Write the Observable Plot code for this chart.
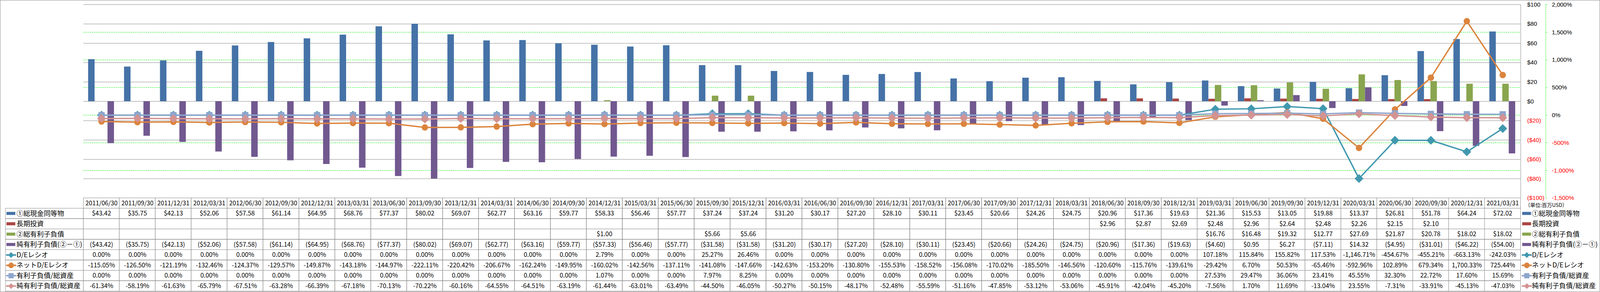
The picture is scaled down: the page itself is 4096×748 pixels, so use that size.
<!DOCTYPE html>
<html><head><meta charset="utf-8">
<script src="https://cdn.jsdelivr.net/npm/d3@7"></script>
<script src="https://cdn.jsdelivr.net/npm/@observablehq/plot@0.6"></script>
<style>
html,body{margin:0;padding:0;background:#fff;}
#wrap{position:relative;width:4096px;height:748px;overflow:hidden;background:#fff;}
#wrap > svg{position:absolute;left:0;top:0;}
#border{position:absolute;left:0;top:0;width:4096px;height:748px;box-sizing:border-box;border:1px solid #8c8c8c;pointer-events:none;}
</style></head>
<body><div id="wrap"></div>
<script>
// ---------------- data ----------------
const dates = ["2011/06/30","2011/09/30","2011/12/31","2012/03/31","2012/06/30","2012/09/30","2012/12/31","2013/03/31","2013/06/30","2013/09/30",
"2013/12/31","2014/03/31","2014/06/30","2014/09/30","2014/12/31","2015/03/31","2015/06/30","2015/09/30","2015/12/31","2016/03/31",
"2016/06/30","2016/09/30","2016/12/31","2017/03/31","2017/06/30","2017/09/30","2017/12/31","2018/03/31","2018/06/30","2018/09/30",
"2018/12/31","2019/03/31","2019/06/30","2019/09/30","2019/12/31","2020/03/31","2020/06/30","2020/09/30","2020/12/31","2021/03/31"];
const cash = [43.42,35.75,42.13,52.06,57.58,61.14,64.95,68.76,77.37,80.02,
69.07,62.77,63.16,59.77,58.33,56.46,57.77,37.24,37.24,31.20,
30.17,27.20,28.10,30.11,23.45,20.66,24.26,24.75,20.96,17.36,
19.63,21.36,15.53,13.05,19.88,13.37,26.81,51.78,64.24,72.02];
const ltInvest = [null,null,null,null,null,null,null,null,null,null,
null,null,null,null,null,null,null,null,null,null,
null,null,null,null,null,null,null,null,2.96,2.87,
2.69,2.48,2.96,2.64,2.48,2.26,2.15,2.10,null,null];
const totalDebt = [null,null,null,null,null,null,null,null,null,null,
null,null,null,null,1.00,null,null,5.66,5.66,null,
null,null,null,null,null,null,null,null,null,null,
null,16.76,16.48,19.32,12.77,27.69,21.87,20.78,18.02,18.02];
const netDebt = [-43.42,-35.75,-42.13,-52.06,-57.58,-61.14,-64.95,-68.76,-77.37,-80.02,
-69.07,-62.77,-63.16,-59.77,-57.33,-56.46,-57.77,-31.58,-31.58,-31.20,
-30.17,-27.20,-28.10,-30.11,-23.45,-20.66,-24.26,-24.75,-20.96,-17.36,
-19.63,-4.60,0.95,6.27,-7.11,14.32,-4.95,-31.01,-46.22,-54.00];
const deRatio = [0,0,0,0,0,0,0,0,0,0,
0,0,0,0,2.79,0,0,25.27,26.46,0,
0,0,0,0,0,0,0,0,0,0,
0,107.18,115.84,155.82,117.53,-1146.71,-454.67,-455.21,-663.13,-242.03];
const netDeRatio = [-115.05,-126.50,-121.19,-132.46,-124.37,-129.57,-149.87,-143.18,-144.97,-222.11,
-220.42,-206.67,-162.24,-149.95,-160.02,-142.56,-137.11,-141.08,-147.66,-142.63,
-153.20,-130.80,-155.53,-158.52,-156.08,-170.02,-185.50,-146.56,-120.60,-115.76,
-139.61,-29.42,6.70,50.53,-65.46,-592.96,102.89,679.34,1700.33,725.44];
const debtToAssets = [0,0,0,0,0,0,0,0,0,0,
0,0,0,0,1.07,0,0,7.97,8.25,0,
0,0,0,0,0,0,0,0,0,0,
0,27.53,29.47,36.06,23.41,45.55,32.30,22.72,17.60,15.69];
const netDebtToAssets = [-61.34,-58.19,-61.63,-65.79,-67.51,-63.28,-66.39,-67.18,-70.13,-70.22,
-60.16,-64.55,-64.51,-63.19,-61.44,-63.01,-63.49,-44.50,-46.05,-50.27,
-50.15,-48.17,-52.48,-55.59,-51.16,-47.85,-53.12,-53.06,-45.91,-42.04,
-45.20,-7.56,1.70,11.69,-13.04,23.55,-7.31,-33.91,-45.13,-47.03];
const seriesNames = ["①総現金同等物","長期投資","②総有利子負債","純有利子負債(②－①)","D/Eレシオ","ネットD/Eレシオ","有利子負債/総資産","純有利子負債/総資産"];
const dollarTicks = [100,80,60,40,20,0,-20,-40,-60,-80,-100];
const pctTicks = [2000,1500,1000,500,0,-500,-1000,-1500];
const unitLabel = "（単位:百万USD）";

// ---------------- layout (reference px -> page px) ----------------
const S = 0.871;
const W = 4096, H = 748;
const F = v => v * S;
const REF = {plotL: 245, plotR: 4469, plotT: 13, plotB: 582, tableB: 856};
const bandRef = (REF.plotR - REF.plotL) / dates.length;
const rowRef = (REF.tableB - REF.plotB) / 9;
const ux = px => (px - REF.plotL) / bandRef;
const uy = px => (px - REF.plotB) / rowRef;

const FONT = "'Noto Sans CJK JP', 'Noto Sans', sans-serif";
const AXISFONT = "'Liberation Sans', Arial, sans-serif";
const gridGray = "#8a8a8a", tableGray = "#8c8c8c", lime = "#00f000", red = "#ff0000";
const dash = "3.5,2";

const barSeries = [
  {values: cash, color: "#4572a7"},
  {values: ltInvest, color: "#aa4643"},
  {values: totalDebt, color: "#89a54e"},
  {values: netDebt, color: "#71588f"}
];
const lineSeries = [
  {values: deRatio, color: "#4198af", symbol: "diamond2", r: 9.4, lr: 6.2},
  {values: netDeRatio, color: "#db843d", symbol: "circle", r: 7.6, lr: 6.8},
  {values: debtToAssets, color: "#8ea6cd", symbol: "square", r: 8.4, lr: 7.0},
  {values: netDebtToAssets, color: "#d39392", symbol: "diamond2", r: 9.4, lr: 6.2}
];

const loc = d3.formatLocale({decimal: ".", thousands: ",", grouping: [3], currency: ["$", ""], minus: "-"});
const f2 = loc.format(",.2f");
const f0 = loc.format(",");
const fmtDollar = v => v < 0 ? "($" + f2(-v) + ")" : "$" + f2(v);
const fmtPct = v => f2(v) + "%";
const fmtDollarAxis = v => v < 0 ? "($" + (-v) + ")" : "$" + v;
const fmtPctAxis = v => f0(v) + "%";
const toY = p => -100 + (p + 1500) / 3500 * 200;
const fromY = y => Math.round((y + 100) / 200 * 3500 - 1500);

const idx = d3.range(dates.length);

// ---------------- table ----------------
const cells = [];
for (let r = 0; r < 9; r++) for (const i of idx) cells.push({r, i});
const rowValues = [cash, ltInvest, totalDebt, netDebt, deRatio, netDeRatio, debtToAssets, netDebtToAssets];
const valueCells = [];
rowValues.forEach((vals, k) => vals.forEach((v, i) => {
  if (v != null) valueCells.push({r: k + 1, i, text: k < 4 ? fmtDollar(v) : fmtPct(v)});
}));

function legendIcons(xRef) {
  const xa = ux(xRef), xb = ux(xRef + 26), xm = ux(xRef + 13);
  const hy = 4.5 / rowRef;
  const m = [];
  barSeries.forEach((s, k) => m.push(Plot.rect([s], {
    x1: () => xa, x2: () => xb, y1: () => k + 1.5 - hy, y2: () => k + 1.5 + hy, fill: s.color
  })));
  lineSeries.forEach((s, k) => {
    const y = k + 5.5;
    m.push(Plot.line([xa, xb], {x: d => d, y: () => y, stroke: s.color, strokeWidth: F(4.5)}));
    m.push(Plot.dot([xm], {x: d => d, y: () => y, symbol: s.symbol, r: s.lr, fill: s.color, stroke: s.color, strokeWidth: 1, strokeLinejoin: "round"}));
  });
  return m;
}

const table = Plot.plot({
  width: W, height: H, margin: 0,
  x: {type: "linear", domain: [0, dates.length], range: [F(REF.plotL), F(REF.plotR)], axis: null},
  y: {type: "linear", domain: [0, 9], range: [F(REF.plotB), F(REF.tableB)], axis: null},
  style: {background: "transparent", fontFamily: FONT, overflow: "visible"},
  marks: [
    Plot.rect(cells, {x1: d => d.i, x2: d => d.i + 1, y1: d => d.r, y2: d => d.r + 1, fill: "none", stroke: tableGray, strokeWidth: 1}),
    Plot.rect(seriesNames, {x1: () => ux(16), x2: () => 0, y1: (d, k) => k + 1, y2: (d, k) => k + 2, fill: "none", stroke: tableGray, strokeWidth: 1}),
    Plot.text(idx, {x: i => i + 0.5, y: () => 0.5, text: i => dates[i], fontSize: F(18.1), fill: "#000"}),
    Plot.text(valueCells, {x: d => d.i + 0.5, y: d => d.r + 0.5, text: "text", fontSize: F(18.4), fill: "#000"}),
    Plot.text(seriesNames, {x: () => ux(48), y: (d, k) => k + 1.5, text: d => d, textAnchor: "start", fontSize: F(20), fill: "#000"}),
    Plot.text(seriesNames, {x: () => ux(4502), y: (d, k) => k + 1.5, text: d => d, textAnchor: "start", fontSize: F(20), fill: "#000"}),
    Plot.text([unitLabel], {x: () => ux(4482), y: () => uy(603), text: d => d, textAnchor: "start", fontSize: F(15), fill: "#000"}),
    ...legendIcons(19),
    ...legendIcons(4474)
  ]
});

// ---------------- chart ----------------
const lastDate = dates[dates.length - 1];
const chartMarks = [
  Plot.ruleY(dollarTicks.filter(t => t > -100), {stroke: gridGray, strokeWidth: 1}),
  Plot.ruleY(pctTicks.filter(p => p < 2000 && p > -1500).map(toY), {stroke: lime, strokeWidth: 1, strokeDasharray: dash}),
  ...barSeries.map((s, k) => Plot.barY(idx.filter(i => s.values[i] != null), {
    x: i => dates[i], y: i => s.values[i], fill: s.color,
    insetLeft: F(14 + 19 * k), insetRight: F(bandRef - 14 - 19 * (k + 1))
  })),
  Plot.ruleX([lastDate], {dx: F(bandRef / 2), stroke: gridGray, strokeWidth: 1}),
  Plot.ruleX([lastDate], {dx: F(bandRef / 2 + 73.5), stroke: lime, strokeWidth: 1, strokeDasharray: dash}),
  ...lineSeries.flatMap(s => [
    Plot.line(idx, {x: i => dates[i], y: i => toY(s.values[i]), stroke: s.color, strokeWidth: F(4), strokeLinejoin: "round", strokeLinecap: "round"}),
    Plot.dot(idx, {x: i => dates[i], y: i => toY(s.values[i]), symbol: s.symbol, r: s.r, fill: s.color, stroke: s.color, strokeWidth: 1.2, strokeLinejoin: "round"})
  ]),
  Plot.axisY({ticks: dollarTicks.filter(t => t >= 0), anchor: "right", tickSize: 0, tickPadding: F(19), tickFormat: fmtDollarAxis, fill: "#000", fontSize: F(17.5), fontFamily: AXISFONT}),
  Plot.axisY({ticks: dollarTicks.filter(t => t < 0), anchor: "right", tickSize: 0, tickPadding: F(19), tickFormat: fmtDollarAxis, fill: red, fontSize: F(17.5), fontFamily: AXISFONT}),
  Plot.axisY({ticks: pctTicks.filter(p => p >= 0).map(toY), anchor: "right", tickSize: F(4), tickPadding: F(14), dx: F(73.5), stroke: lime, tickFormat: y => fmtPctAxis(fromY(y)), fill: "#000", fontSize: F(17.5), fontFamily: AXISFONT}),
  Plot.axisY({ticks: pctTicks.filter(p => p < 0).map(toY), anchor: "right", tickSize: F(4), tickPadding: F(14), dx: F(73.5), stroke: lime, tickFormat: y => fmtPctAxis(fromY(y)), fill: red, fontSize: F(17.5), fontFamily: AXISFONT})
];

const chart = Plot.plot({
  width: W, height: H,
  marginLeft: F(REF.plotL), marginRight: W - F(REF.plotR), marginTop: F(REF.plotT), marginBottom: H - F(REF.plotB),
  x: {type: "band", domain: dates, padding: 0, round: false, axis: null},
  y: {domain: [-100, 100], axis: null},
  style: {background: "transparent", fontFamily: AXISFONT, overflow: "visible"},
  marks: chartMarks
});

const wrap = document.getElementById("wrap");
wrap.appendChild(table);
wrap.appendChild(chart);
const border = document.createElement("div");
border.id = "border";
wrap.appendChild(border);
</script>
</body></html>
